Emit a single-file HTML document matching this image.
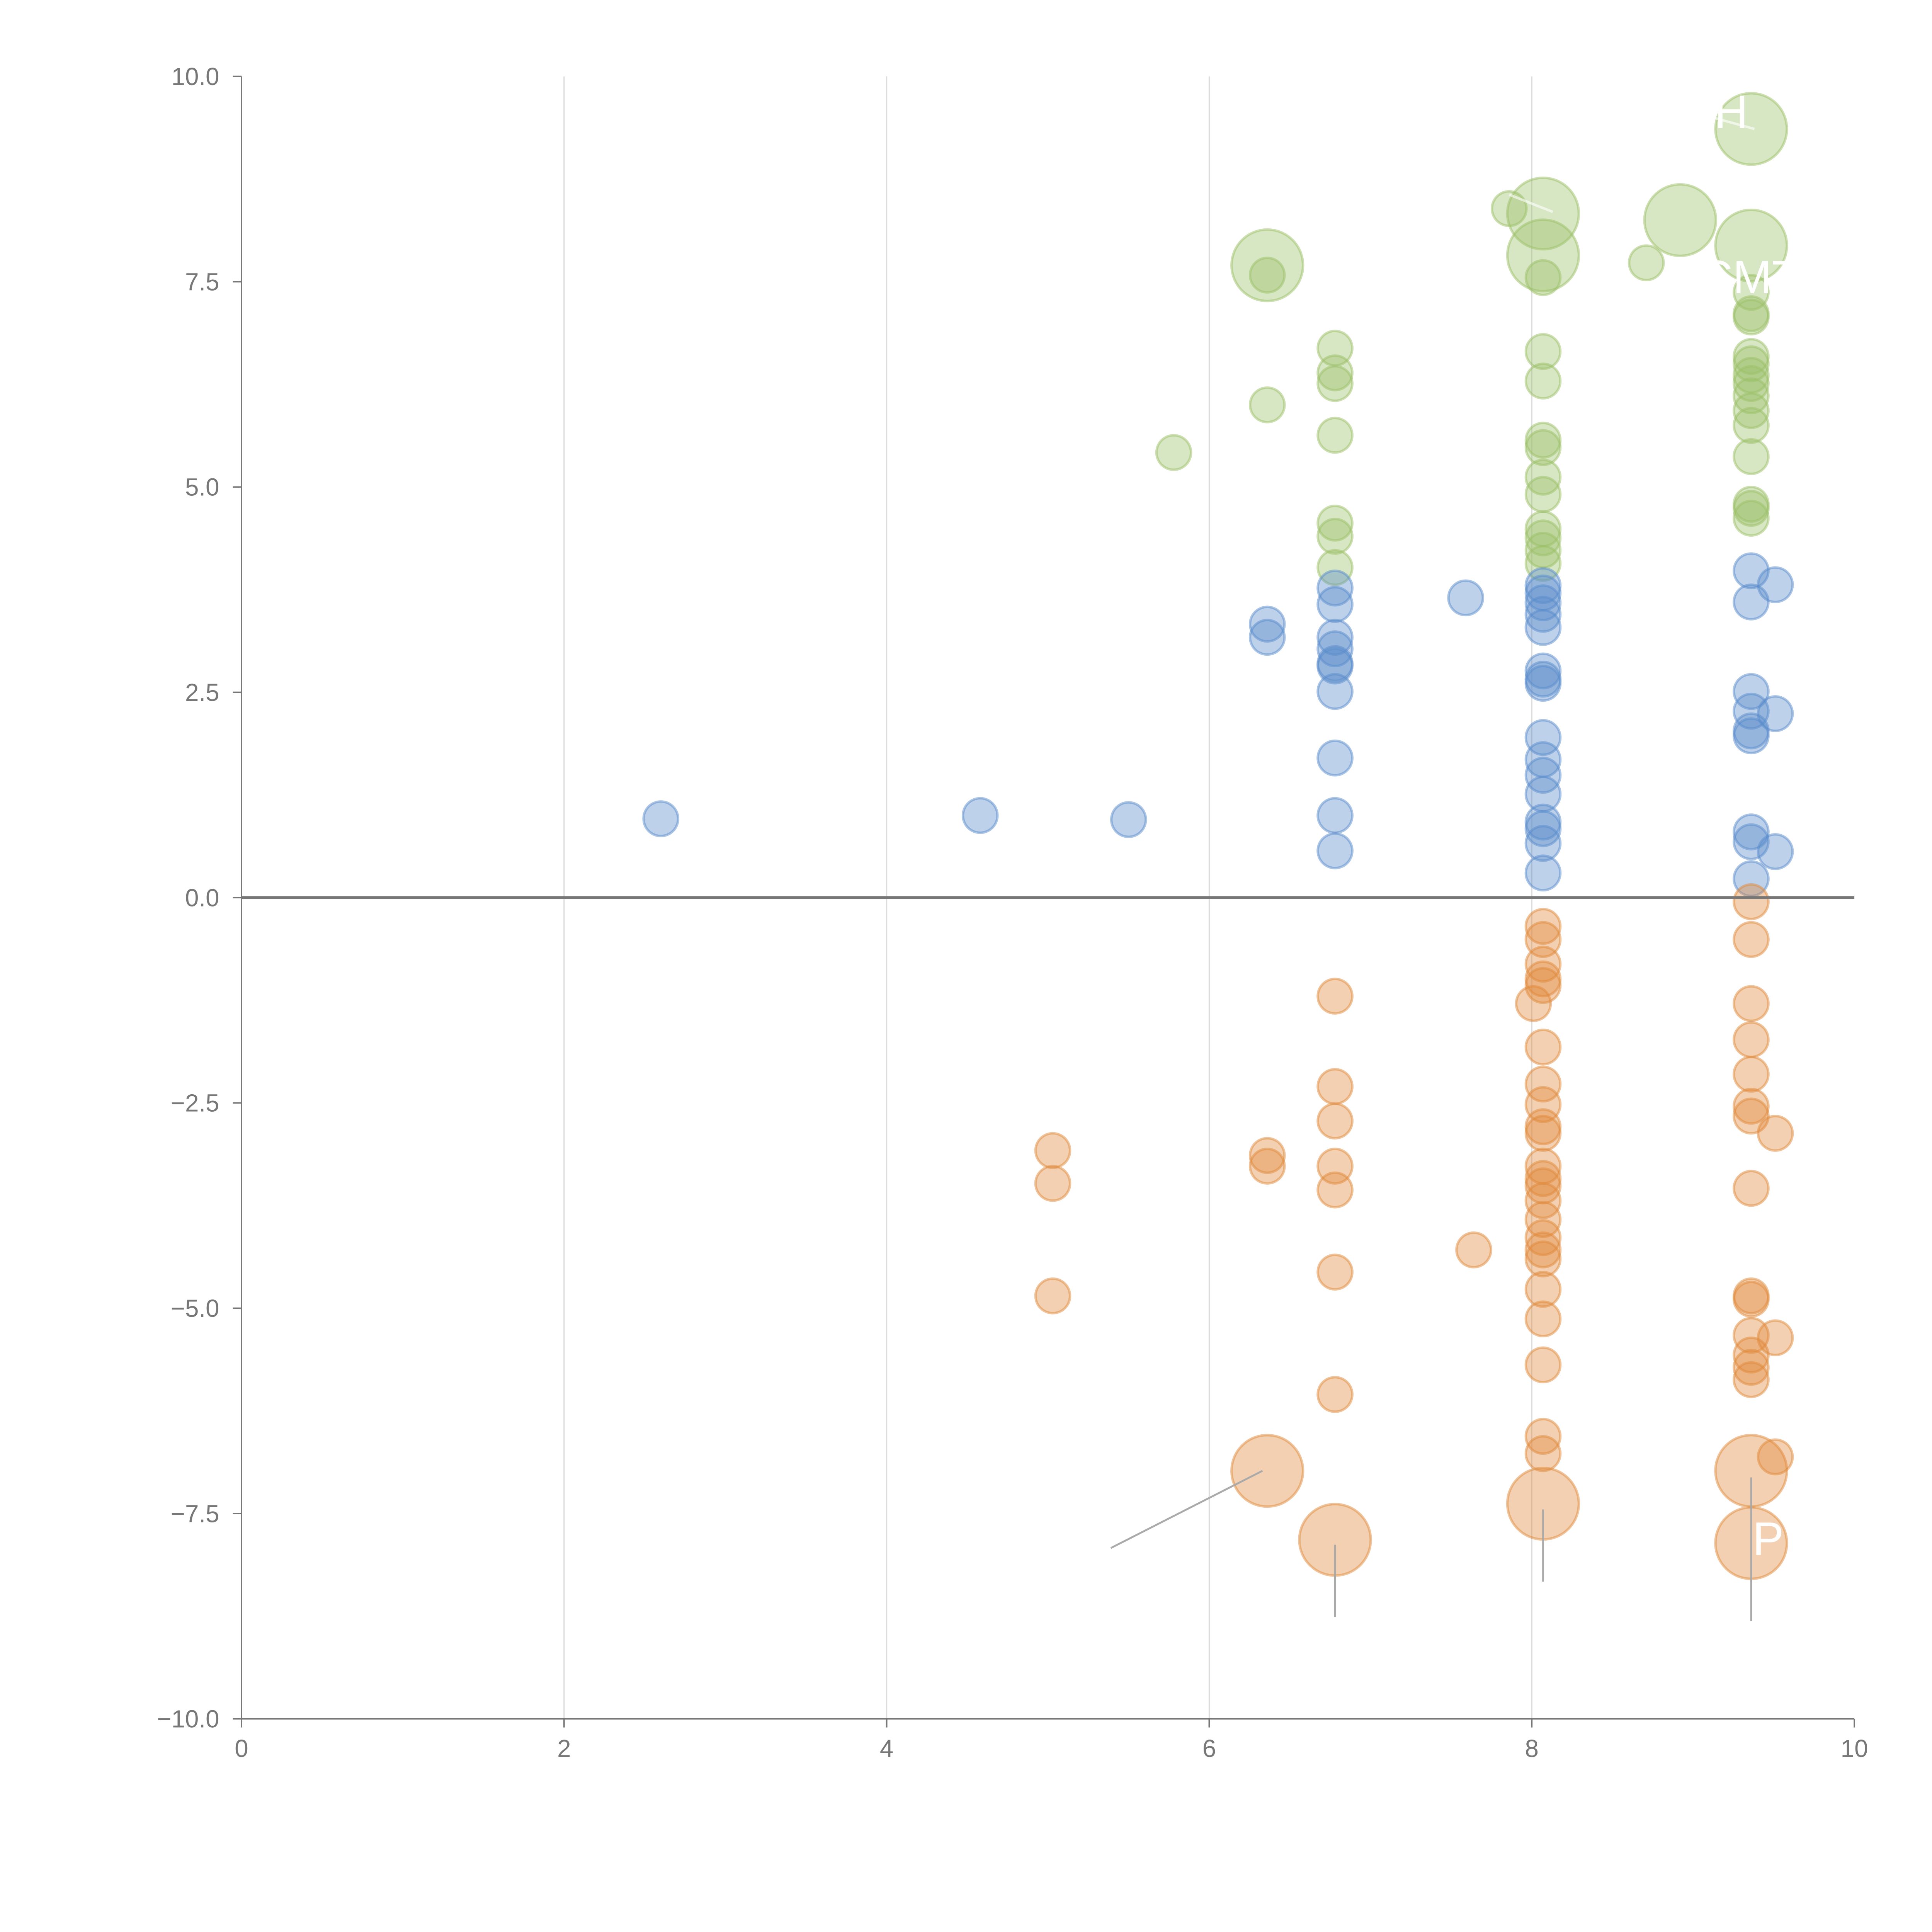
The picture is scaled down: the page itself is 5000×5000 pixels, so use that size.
<!DOCTYPE html>
<html><head><meta charset="utf-8"><style>
html,body{margin:0;padding:0;background:#fff;width:5000px;height:5000px;overflow:hidden}
svg{display:block}
text{font-family:"Liberation Sans",sans-serif}
</style></head><body>
<svg id="chart" width="5000" height="5000" viewBox="0 0 1568 1568" xmlns="http://www.w3.org/2000/svg">
<g id="grid"></g>
<g id="axes"></g>
<g id="marks"></g>
<g id="annot"></g>
</svg>
<script>
const xTicks=[0,2,4,6,8,10];
const yTicks=[-10,-7.5,-5,-2.5,0,2.5,5,7.5,10];
const yTickLabels=["\u221210.0","\u22127.5","\u22125.0","\u22122.5","0.0","2.5","5.0","7.5","10.0"];
const greenX=[5.78,6.36,6.36,6.36,6.78,6.78,6.78,6.78,6.78,6.78,6.78,7.86,8.07,8.07,8.07,8.07,8.07,8.07,8.07,8.07,8.07,8.07,8.07,8.07,8.07,8.71,8.92,9.36,9.36,9.36,9.36,9.36,9.36,9.36,9.36,9.36,9.36,9.36,9.36,9.36,9.36,9.36,9.36];
const greenY=[5.42,6.0,7.58,7.70,6.69,6.39,6.26,5.63,4.56,4.40,4.02,8.39,8.33,7.82,7.55,6.65,6.29,5.57,5.48,5.12,4.91,4.49,4.38,4.23,4.07,7.73,8.25,9.36,7.94,7.37,7.11,7.07,6.59,6.50,6.36,6.26,6.11,5.93,5.75,5.37,4.79,4.74,4.62];
const greenBig=[0,0,0,1,0,0,0,0,0,0,0,0,1,1,0,0,0,0,0,0,0,0,0,0,0,0,1,1,1,0,0,0,0,0,0,0,0,0,0,0,0,0,0];
const blueX=[2.60,4.58,5.50,6.36,6.36,6.78,6.78,6.78,6.78,6.78,6.78,6.78,6.78,6.78,6.78,7.59,8.07,8.07,8.07,8.07,8.07,8.07,8.07,8.07,8.07,8.07,8.07,8.07,8.07,8.07,8.07,8.07,9.36,9.36,9.36,9.36,9.36,9.36,9.36,9.36,9.36,9.51,9.51,9.51];
const blueY=[0.96,1.0,0.95,3.33,3.17,3.77,3.57,3.17,3.03,2.85,2.82,2.51,1.70,1.0,0.57,3.65,3.80,3.71,3.59,3.45,3.29,2.76,2.66,2.61,1.95,1.68,1.49,1.26,0.92,0.84,0.66,0.30,3.98,3.60,2.51,2.27,2.03,1.97,0.80,0.68,0.23,3.81,2.24,0.56];
const orangeX=[5.03,5.03,5.03,6.36,6.36,6.36,6.78,6.78,6.78,6.78,6.78,6.78,6.78,6.78,7.64,8.01,8.07,8.07,8.07,8.07,8.07,8.07,8.07,8.07,8.07,8.07,8.07,8.07,8.07,8.07,8.07,8.07,8.07,8.07,8.07,8.07,8.07,8.07,8.07,8.07,9.36,9.36,9.36,9.36,9.36,9.36,9.36,9.36,9.36,9.36,9.36,9.36,9.36,9.36,9.36,9.36,9.51,9.51,9.51];
const orangeY=[-3.08,-3.48,-4.85,-3.14,-3.27,-6.98,-1.20,-2.30,-2.72,-3.27,-3.56,-4.56,-6.05,-7.82,-4.29,-1.29,-0.35,-0.51,-0.81,-0.99,-1.07,-1.82,-2.27,-2.52,-2.79,-2.87,-3.27,-3.42,-3.51,-3.69,-3.92,-4.14,-4.29,-4.40,-4.77,-5.13,-5.69,-6.56,-6.77,-7.38,-0.05,-0.51,-1.29,-1.73,-2.15,-2.54,-2.66,-3.54,-4.85,-4.89,-5.33,-5.57,-5.72,-5.87,-6.98,-7.86,-2.87,-5.36,-6.81];
const orangeBig=[0,0,0,0,0,1,0,0,0,0,0,0,0,1,0,0,0,0,0,0,0,0,0,0,0,0,0,0,0,0,0,0,0,0,0,0,0,0,0,1,0,0,0,0,0,0,0,0,0,0,0,0,0,0,1,1,0,0,0];

const NS="http://www.w3.org/2000/svg";
const X0=196,X1=1505,Y0=1395,Y1=62;
function sx(v){return X0+(v-0)/(10-0)*(X1-X0);}
function sy(v){return Y0-(v+10)/20*(Y0-Y1);}
function mk(tag,attrs,parent){const e=document.createElementNS(NS,tag);for(const k in attrs)e.setAttribute(k,attrs[k]);parent.appendChild(e);return e;}
const grid=document.getElementById('grid'),axes=document.getElementById('axes'),marks=document.getElementById('marks'),annot=document.getElementById('annot');

xTicks.forEach((t,i)=>{
  if(t>0&&t<10){const g=mk('line',{x1:sx(t),x2:sx(t),y1:Y1,y2:Y0,stroke:'#dddddd','stroke-width':1},grid);
  
  }
  const tk=mk('line',{x1:sx(t),x2:sx(t),y1:Y0,y2:Y0+7,stroke:'#777','stroke-width':1.2},axes);
  
  
  const tx=mk('text',{x:sx(t),y:Y0+31,'text-anchor':'middle','font-size':20,fill:'#777'},axes);
  tx.textContent=String(t);
  
  
});
yTicks.forEach((t,i)=>{
  const tk=mk('line',{x1:X0-7,x2:X0,y1:sy(t),y2:sy(t),stroke:'#777','stroke-width':1.2},axes);
  
  
  const tx=mk('text',{x:X0-18,y:sy(t)+7,'text-anchor':'end','font-size':20,fill:'#777'},axes);
  tx.textContent=yTickLabels[i];
  
  
});
const ya=mk('line',{x1:X0,x2:X0,y1:Y1,y2:Y0,stroke:'#777','stroke-width':1.2},axes);


const xa=mk('line',{x1:X0,x2:X1,y1:Y0,y2:Y0,stroke:'#777','stroke-width':1.2},axes);



function series(xs,ys,bigs,fill,stroke,name){
  xs.forEach((x,i)=>{
    const big=bigs?bigs[i]:0;
    const c=mk('circle',{cx:sx(x),cy:sy(ys[i]),r:big?29:14,fill:fill,'fill-opacity':0.4,stroke:stroke,'stroke-opacity':0.5,'stroke-width':2},marks);
    
    
  });
}
series(greenX,greenY,greenBig,'#9cc068','#9cc068','green-bubble');
series(blueX,blueY,null,'#5a8bcb','#5a8bcb','blue-bubble');
series(orangeX,orangeY,orangeBig,'#e08a3c','#e08a3c','orange-bubble');

const zl=mk('line',{x1:X0,x2:X1,y1:sy(0),y2:sy(0),stroke:'#777','stroke-width':2.4},axes);


axes.parentNode.appendChild(zl);

[[5.39,-7.92,6.33,-6.98],[6.78,-7.88,6.78,-8.76],[8.07,-7.45,8.07,-8.33],[9.36,-7.06,9.36,-8.81]].forEach(a=>{
  const l=mk('line',{x1:sx(a[0]),y1:sy(a[1]),x2:sx(a[2]),y2:sy(a[3]),stroke:'#aaa','stroke-width':1.5},annot);
  
  
});
[[7.86,8.56,8.13,8.35],[9.14,9.49,9.38,9.36]].forEach(a=>{
  const l=mk('line',{x1:sx(a[0]),y1:sy(a[1]),x2:sx(a[2]),y2:sy(a[3]),stroke:'#ffffff','stroke-opacity':0.6,'stroke-width':2},annot);
  
  
});
[['H',1405,104,'middle'],['CMT',1420,238,'middle'],['P',1435,1262,'middle']].forEach(a=>{
  const t=mk('text',{x:a[1],y:a[2],'text-anchor':a[3],'font-size':38,fill:'#fff'},annot);
  t.textContent=a[0];
  
  
});
</script>
</body></html>
